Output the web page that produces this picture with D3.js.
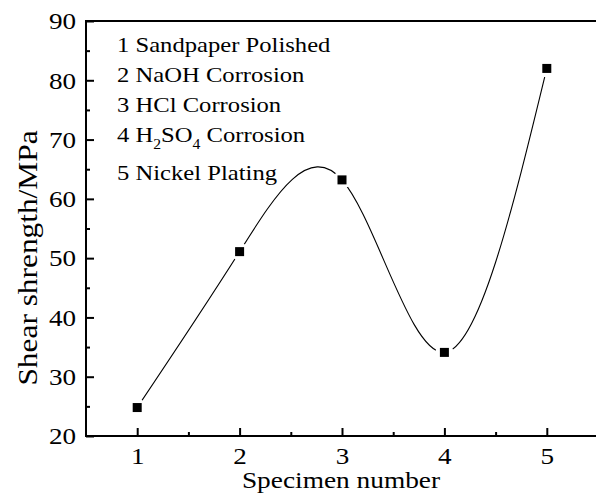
<!DOCTYPE html>
<html>
<head>
<meta charset="utf-8">
<script src="https://cdn.jsdelivr.net/npm/d3@7"></script>
<style>
  body { margin: 0; background: #fff; overflow: hidden; }
  svg { display: block; }
  svg text { font-family: "Liberation Serif", "Times New Roman", serif; fill: #000; }
</style>
</head>
<body>
<div id="canvas"></div>
<script>
// data
const specimens = [1, 2, 3, 4, 5];
const strength = [24.8, 51.1, 63.2, 34.1, 82.0];
const xTicks = [1, 2, 3, 4, 5];
const xMinor = [1.5, 2.5, 3.5, 4.5];
const yTicks = [20, 30, 40, 50, 60, 70, 80, 90];
const yMinor = [25, 35, 45, 55, 65, 75, 85];
const legendLines = ["1 Sandpaper Polished", "2 NaOH Corrosion", "3 HCl Corrosion", "4 H2SO4 Corrosion", "5 Nickel Plating"];

const width = 596;
const height = 497;
const pLeft = 86, pTop = 21, pBottom = 436, pRight = 598;

const svg = d3.select("#canvas").append("svg")
    .attr("width", width)
    .attr("height", height);

const x = d3.scaleLinear().domain([0.5, 5.5]).range([pLeft, pRight]);
const y = d3.scaleLinear().domain([20, 90]).range([pBottom, pTop]);

// curve (natural cubic spline, like Origin's spline connect)
const points = specimens.map((s, i) => ({ s: s, v: strength[i] }));
const line = d3.line()
    .x(d => x(d.s))
    .y(d => y(d.v))
    .curve(d3.curveNatural);

svg.append("path")
    .datum(points)
    .attr("d", line)
    .attr("fill", "none")
    .attr("stroke", "#000")
    .attr("stroke-width", 1.1);

// white gap around each symbol
svg.selectAll(".gap").data(points).enter().append("circle")
    .attr("class", "gap")
    .attr("cx", d => x(d.s))
    .attr("cy", d => y(d.v))
    .attr("r", 9)
    .attr("fill", "#fff");

svg.selectAll(".pt").data(points).enter().append("rect")
    .attr("class", "pt")
    .attr("x", d => x(d.s) - 4.5)
    .attr("y", d => y(d.v) - 4.5)
    .attr("width", 9)
    .attr("height", 9)
    .attr("fill", "#000");

// axes
const xAxis = svg.append("g")
    .attr("transform", `translate(0,${pBottom})`)
    .call(d3.axisBottom(x).tickValues(xTicks).tickFormat(d3.format("d")).tickSize(-8));
svg.append("g")
    .attr("transform", `translate(0,${pBottom})`)
    .call(d3.axisBottom(x).tickValues(xMinor).tickFormat("").tickSize(-4));

const yAxis = svg.append("g")
    .attr("transform", `translate(${pLeft},0)`)
    .call(d3.axisLeft(y).tickValues(yTicks).tickFormat(d3.format("d")).tickSize(-8));
svg.append("g")
    .attr("transform", `translate(${pLeft},0)`)
    .call(d3.axisLeft(y).tickValues(yMinor).tickFormat("").tickSize(-4));

svg.selectAll(".domain").remove();
svg.selectAll(".tick line").attr("stroke", "#000").attr("stroke-width", 2);
svg.selectAll(".tick text")
    .style("font-family", "Liberation Serif")
    .style("font-size", "23px")
    .attr("fill", "#000");
xAxis.selectAll(".tick text")
    .attr("y", 0).attr("dy", 0)
    .attr("transform", "translate(0,28) scale(1.18,1)");
yAxis.selectAll(".tick text")
    .attr("x", 0).attr("dy", "0.34em")
    .attr("transform", "translate(-10,0) scale(1.18,1)");

// frame
svg.append("path")
    .attr("d", `M${pLeft},${pTop}H${pRight}V${pBottom}H${pLeft}Z`)
    .attr("fill", "none")
    .attr("stroke", "#000")
    .attr("stroke-width", 2);

// titles
svg.append("text")
    .attr("transform", "translate(341,488) scale(1.14,1)")
    .attr("text-anchor", "middle")
    .style("font-size", "24px")
    .text("Specimen number");

svg.append("text")
    .attr("transform", "translate(37,258) rotate(-90) scale(1.12,1)")
    .attr("text-anchor", "middle")
    .style("font-size", "28px")
    .text("Shear shrength/MPa");

// legend notes
const legendY = [52, 82, 112, 142, 180];
const notes = svg.append("g");
legendLines.forEach((t, i) => {
    const txt = notes.append("text")
        .attr("transform", `translate(117,${legendY[i]}) scale(1.12,1)`)
        .style("font-size", "22px");
    if (t.indexOf("H2SO4") >= 0) {
        txt.append("tspan").text("4 H");
        txt.append("tspan").attr("dy", 7).style("font-size", "14px").text("2");
        txt.append("tspan").attr("dy", -7).text("SO");
        txt.append("tspan").attr("dy", 7).style("font-size", "14px").text("4");
        txt.append("tspan").attr("dy", -7).text(" Corrosion");
    } else {
        txt.text(t);
    }
});
</script>
</body>
</html>
